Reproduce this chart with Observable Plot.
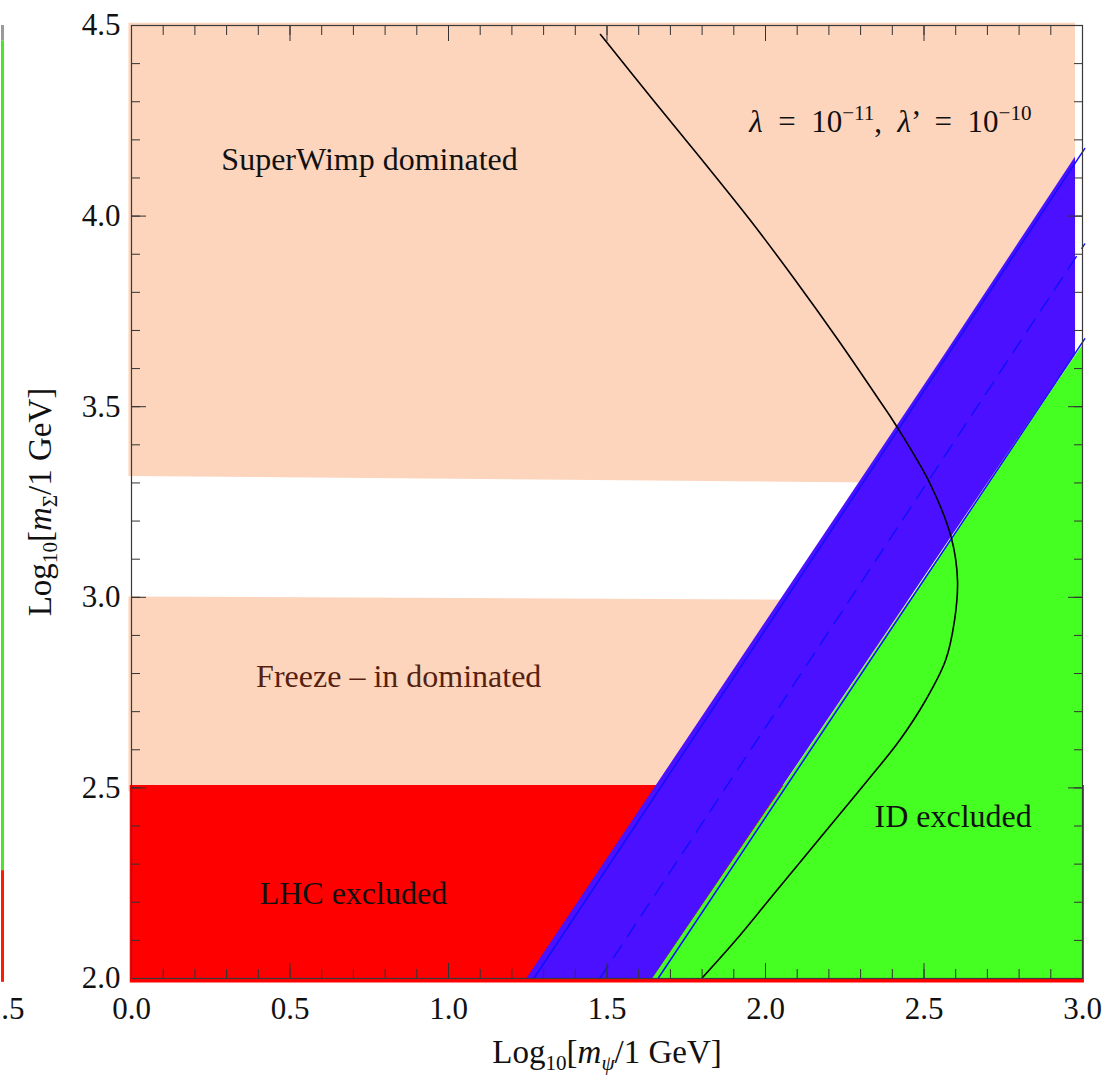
<!DOCTYPE html>
<html>
<head>
<meta charset="utf-8">
<script src="https://cdn.jsdelivr.net/npm/d3@7"></script>
<script src="https://cdn.jsdelivr.net/npm/@observablehq/plot@0.6"></script>
<style>
  html, body { margin: 0; padding: 0; background: #fff; }
  #chart svg { display: block; }
</style>
</head>
<body>
<div id="chart"></div>
<script>
// ---------------- data ----------------
const xDomain = [0, 3];
const yDomain = [2, 4.5];
const xMajorTicks = [0, 0.5, 1.0, 1.5, 2.0, 2.5, 3.0];
const yMajorTicks = [2.0, 2.5, 3.0, 3.5, 4.0, 4.5];
const xMinorTicks = [0,0.1,0.2,0.3,0.4,0.5,0.6,0.7,0.8,0.9,1.0,1.1,1.2,1.3,1.4,1.5,1.6,1.7,1.8,1.9,2.0,2.1,2.2,2.3,2.4,2.5,2.6,2.7,2.8,2.9,3.0];
const yMinorTicks = [2.0,2.1,2.2,2.3,2.4,2.5,2.6,2.7,2.8,2.9,3.0,3.1,3.2,3.3,3.4,3.5,3.6,3.7,3.8,3.9,4.0,4.1,4.2,4.3,4.4,4.5];

// SuperWimp dominated region (upper peach)
const superWimpX = [-0.008, 2.978];
const superWimpLow = [3.317, 3.295];
const superWimpHigh = [4.506, 4.506];
// Freeze-in dominated region (lower peach)
const freezeInX = [-0.008, 2.978];
const freezeInLow = [2.49, 2.49];
const freezeInHigh = [3.001, 2.989];
// LHC excluded
const lhcX = [-0.004, 3.006];
const lhcLow = [1.988, 1.988];
const lhcHigh = [2.506, 2.506];
// blue band (between two parallel boundaries)
const bandY = [2.0, 3.639, 4.155];
const bandLeft = [1.248, 2.568, 2.978];
const bandRight = [1.645, 2.978, 2.978];
// ID excluded (green)
const idX = [1.645, 3.0];
const idLow = [2.0, 2.0];
const idHigh = [2.0, 3.66];
// blue boundary lines
const upperLineX = [1.269, 3.007];
const upperLineY = [2.0, 4.177];
const centralLineX = [1.477, 3.007];
const centralLineY = [2.0, 3.927];
const lowerLineX = [1.661, 3.007];
const lowerLineY = [2.0, 3.678];
// black contour (lambda = 1e-11, lambda' = 1e-10)
const contourX = [1.4795, 1.6467, 1.8013, 1.9527, 2.0946, 2.2303, 2.3596, 2.4101, 2.5205, 2.5868, 2.6057, 2.5962, 2.5678, 2.5047, 2.4227, 2.3218, 2.2177, 2.1136, 2.0095, 1.9054, 1.8013];
const contourY = [4.4764, 4.3033, 4.1459, 3.9885, 3.8311, 3.6737, 3.5163, 3.4533, 3.2959, 3.1543, 3.0441, 2.9391, 2.8342, 2.7293, 2.6243, 2.5194, 2.4145, 2.3095, 2.2046, 2.0997, 2.0026];

// region labels
const regionLabels = ["SuperWimp dominated", "Freeze – in dominated", "LHC excluded", "ID excluded"];
const regionLabelX = [0.751, 0.843, 0.700, 2.592];
const regionLabelY = [4.120, 2.764, 2.196, 2.397];
const regionLabelColor = ["#111", "#561f0f", "#111", "#111"];
const couplingLabel = "λ = 10−11, λ’ = 10−10";
const couplingLabelX = 2.394;
const couplingLabelY = 4.220;
const xTitle = "Log10[mψ/1 GeV]";
const yTitle = "Log10[mΣ/1 GeV]";
const xTitlePos = [1.5, 1.778];
const yTitlePos = [-0.2555, 3.25];
// edge of neighbouring panel (cropped in the reference)
const neighbourX = -0.407;
const neighbourSegLow = [1.99, 2.283, 4.46];
const neighbourSegHigh = [2.283, 4.46, 4.50];
const neighbourSegColor = ["#ff1a00", "#4ee228", "#9a9a9a"];
const neighbourTick = ".5";
const neighbourTickX = -0.411;

// ---------------- styles ----------------
const FONT = "'Liberation Serif', 'Times New Roman', 'DejaVu Serif', serif";
const PEACH = "#fdd5bd";
const RED = "#ff0000";
const BLUE_FILL = "#4a10ff";
const BLUE_LINE = "#1010ff";
const GREEN = "#45ff22";
const TICK = "#333";

const rows = (xs, a, b) => xs.map((x, i) => ({x, y1: a[i], y2: b[i]}));
const pts = (xs, ys) => xs.map((x, i) => ({x, y: ys[i]}));

const chart = Plot.plot({
  width: 1119,
  height: 1075,
  marginLeft: 131,
  marginRight: 37,
  marginTop: 25,
  marginBottom: 97,
  x: {domain: xDomain},
  y: {domain: yDomain},
  style: {fontFamily: FONT, background: "#fff", color: "#000", overflow: "visible"},
  marks: [
    // regions
    Plot.areaY(rows(superWimpX, superWimpLow, superWimpHigh), {x: "x", y1: "y1", y2: "y2", fill: PEACH}),
    Plot.areaY(rows(freezeInX, freezeInLow, freezeInHigh), {x: "x", y1: "y1", y2: "y2", fill: PEACH}),
    Plot.areaY(rows(lhcX, lhcLow, lhcHigh), {x: "x", y1: "y1", y2: "y2", fill: RED}),
    Plot.areaX(bandY.map((y, i) => ({y, x1: bandLeft[i], x2: bandRight[i]})), {y: "y", x1: "x1", x2: "x2", fill: BLUE_FILL}),
    Plot.areaY(rows(idX, idLow, idHigh), {x: "x", y1: "y1", y2: "y2", fill: GREEN}),
    // boundary lines
    Plot.line(pts(upperLineX, upperLineY), {x: "x", y: "y", stroke: BLUE_LINE, strokeWidth: 1.5}),
    Plot.line(pts(lowerLineX, lowerLineY), {x: "x", y: "y", stroke: BLUE_LINE, strokeWidth: 1.5}),
    Plot.line(pts(centralLineX, centralLineY), {x: "x", y: "y", stroke: BLUE_LINE, strokeWidth: 1.4, strokeDasharray: "15,10"}),
    Plot.line(pts(contourX, contourY), {x: "x", y: "y", stroke: "#000", strokeWidth: 1.6, curve: "catmull-rom"}),
    // neighbour panel remnant
    Plot.ruleX(neighbourSegColor.map((c, i) => ({x: neighbourX, y1: neighbourSegLow[i], y2: neighbourSegHigh[i], c})), {x: "x", y1: "y1", y2: "y2", stroke: "c", strokeWidth: 3}),
    // labels
    Plot.text(regionLabels.map((t, i) => ({t, x: regionLabelX[i], y: regionLabelY[i], c: regionLabelColor[i]})), {x: "x", y: "y", text: "t", fill: "c", fontSize: 32, textAnchor: "middle", lineAnchor: "bottom"}),
    Plot.text([couplingLabel], {x: () => couplingLabelX, y: () => couplingLabelY, text: d => d, fontSize: 31, textAnchor: "middle", lineAnchor: "bottom", fill: "#111"}),
    Plot.text([xTitle], {x: () => xTitlePos[0], y: () => xTitlePos[1], text: d => d, fontSize: 33, textAnchor: "middle", lineAnchor: "bottom", fill: "#111"}),
    Plot.text([yTitle], {x: () => yTitlePos[0], y: () => yTitlePos[1], text: d => d, fontSize: 33, textAnchor: "middle", lineAnchor: "bottom", rotate: -90, fill: "#111"}),
    // ticks (inward, four sides)
    Plot.axisX(xMinorTicks, {anchor: "bottom", tickSize: -9, fill: null, label: null, stroke: TICK}),
    Plot.axisX(xMajorTicks, {anchor: "bottom", tickSize: -15, fill: null, label: null, stroke: TICK}),
    Plot.axisX(xMinorTicks, {anchor: "top", tickSize: -9, fill: null, label: null, stroke: TICK}),
    Plot.axisX(xMajorTicks, {anchor: "top", tickSize: -15, fill: null, label: null, stroke: TICK}),
    Plot.axisY(yMinorTicks, {anchor: "left", tickSize: -9, fill: null, label: null, stroke: TICK}),
    Plot.axisY(yMajorTicks, {anchor: "left", tickSize: -15, fill: null, label: null, stroke: TICK}),
    Plot.axisY(yMinorTicks, {anchor: "right", tickSize: -9, fill: null, label: null, stroke: TICK}),
    Plot.axisY(yMajorTicks, {anchor: "right", tickSize: -15, fill: null, label: null, stroke: TICK}),
    // tick labels
    Plot.axisX(xMajorTicks, {anchor: "bottom", tickSize: 0, tickPadding: 18, fontSize: 31, tickFormat: d3.format(".1f"), label: null, fill: "#111"}),
    Plot.axisY(yMajorTicks, {anchor: "left", tickSize: 0, tickPadding: 11, fontSize: 31, tickFormat: d3.format(".1f"), label: null, fill: "#111"}),
    Plot.text([neighbourTick], {x: () => neighbourTickX, y: () => yDomain[0], text: d => d, fontSize: 31, textAnchor: "start", lineAnchor: "top", dy: 18, fill: "#111"}),
    Plot.frame({stroke: "#3a3a3a", strokeWidth: 1.2})
  ]
});

// ---- rich text (sub/superscripts, italics) ----
function richify(svg, fullText, segs) {
  d3.select(svg).selectAll("text").filter(function() { return this.textContent === fullText; }).each(function() {
    const fs = parseFloat(getComputedStyle(this).fontSize) || 31;
    const el = d3.select(this);
    el.text(null);
    let cur = 0;
    for (const [t, kind = ""] of segs) {
      const sub = kind.includes("sub"), sup = kind.includes("sup"), it = kind.includes("it");
      const target = sub ? 0.22 * fs : sup ? -0.4 * fs : 0;
      const ts = el.append("tspan").text(t);
      if (target !== cur) ts.attr("dy", target - cur);
      cur = target;
      if (sub || sup) ts.attr("font-size", (0.68 * fs).toFixed(1));
      if (it) ts.attr("font-style", "italic");
    }
  });
}
richify(chart, xTitle, [["Log"], ["10", "sub"], ["["], ["m", "it"], ["ψ", "it sub"], ["/1 GeV]"]]);
richify(chart, yTitle, [["Log"], ["10", "sub"], ["["], ["m", "it"], ["Σ", "sub"], ["/1 GeV]"]]);
richify(chart, couplingLabel, [["λ", "it"], ["  =  10"], ["−11", "sup"], [",  "], ["λ", "it"], ["’  =  10"], ["−10", "sup"]]);

document.getElementById("chart").appendChild(chart);
</script>
</body>
</html>
